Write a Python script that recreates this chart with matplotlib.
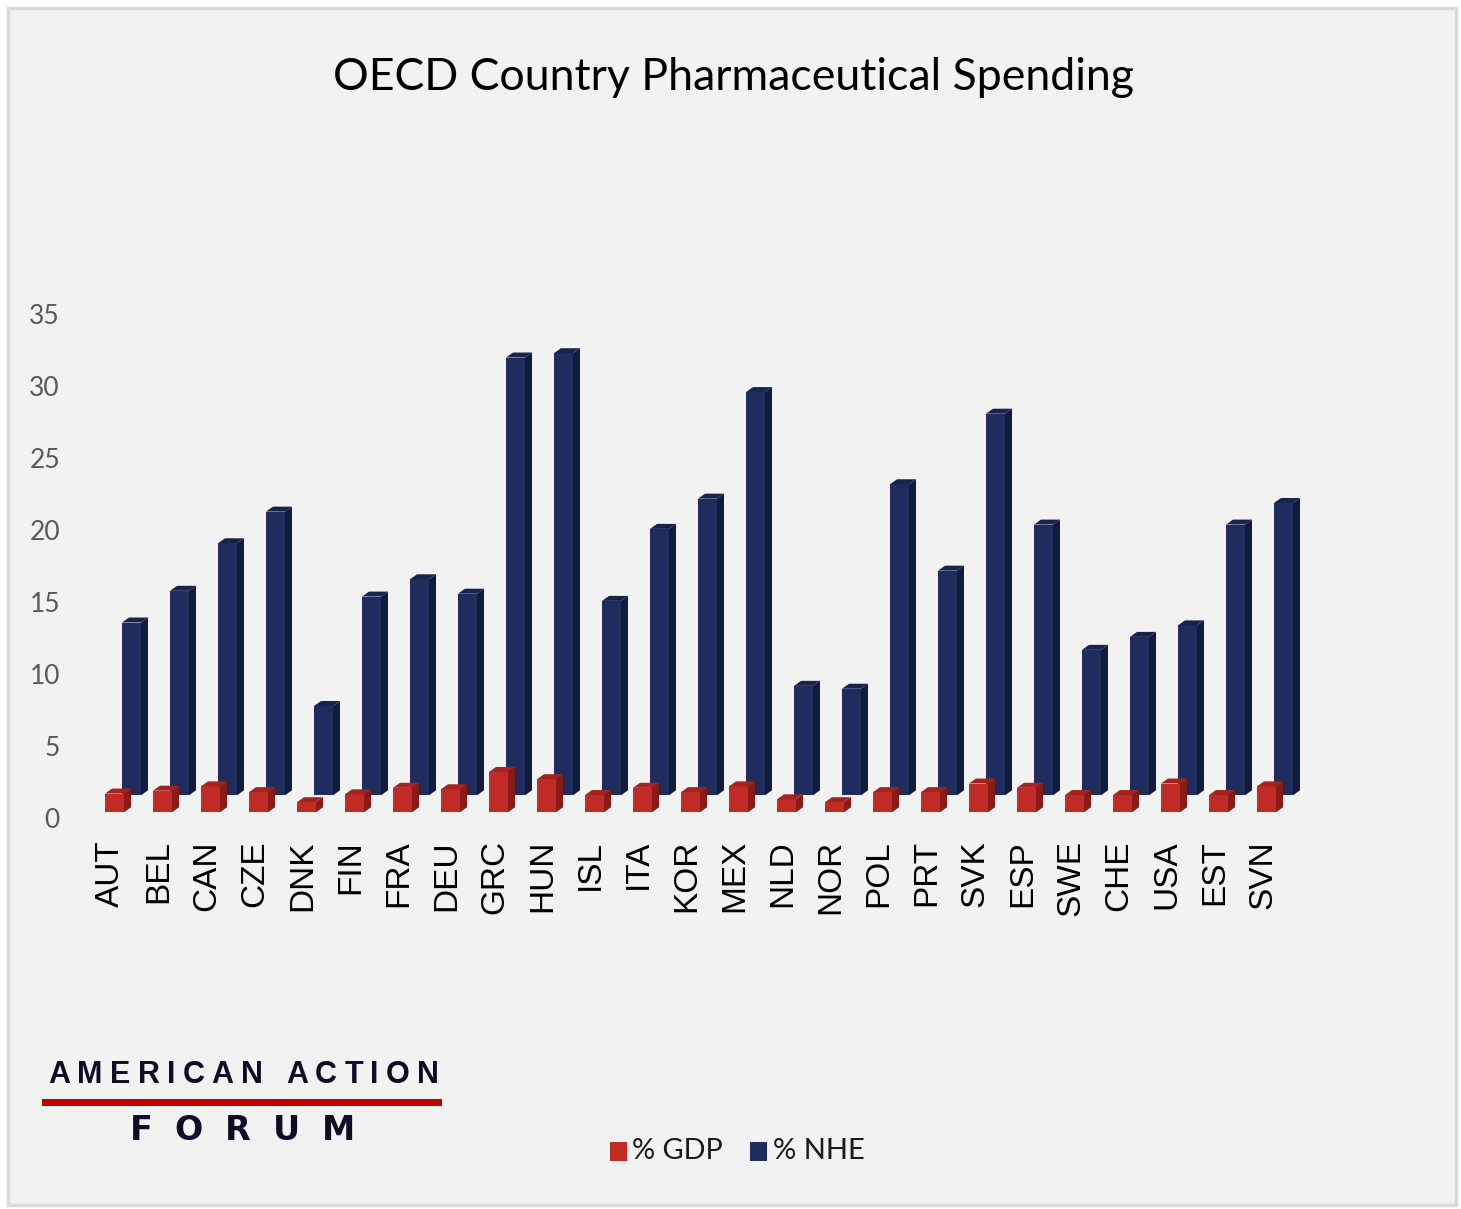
import matplotlib
matplotlib.use('Agg')
import matplotlib.pyplot as plt
import matplotlib.transforms as mtransforms
from matplotlib.patches import Rectangle

countries = ['AUT', 'BEL', 'CAN', 'CZE', 'DNK', 'FIN', 'FRA', 'DEU', 'GRC', 'HUN',
             'ISL', 'ITA', 'KOR', 'MEX', 'NLD', 'NOR', 'POL', 'PRT', 'SVK', 'ESP',
             'SWE', 'CHE', 'USA', 'EST', 'SVN']
gdp = [1.3, 1.5, 1.8, 1.4, 0.7, 1.25, 1.7, 1.6, 2.8, 2.3,
       1.2, 1.7, 1.4, 1.8, 0.9, 0.7, 1.4, 1.4, 2.0, 1.7,
       1.2, 1.2, 2.0, 1.2, 1.8]
nhe = [12.0, 14.2, 17.5, 19.7, 6.2, 13.8, 15.0, 14.0, 30.4, 30.7,
       13.5, 18.5, 20.6, 28.0, 7.6, 7.4, 21.6, 15.6, 26.5, 18.8,
       10.1, 11.0, 11.8, 18.8, 20.3]
yticks = [0, 5, 10, 15, 20, 25, 30, 35]
title = 'OECD Country Pharmaceutical Spending'
series_names = ['% GDP', '% NHE']

W, H = 1461, 1209
def fx(px):
    return px / W
def fy(py):
    return 1 - py / H

fig = plt.figure(figsize=(W / 100, H / 100), dpi=100)
fig.patch.set_facecolor('white')
fig.add_artist(Rectangle((fx(8), fy(1205)), fx(1456) - fx(8), fy(8) - fy(1205),
                         transform=fig.transFigure, facecolor='#f2f2f2',
                         edgecolor='#d9d9d9', lw=2.5, zorder=0))

# pixels per unit: 48 px per category, 14.4 px per value unit
ax = fig.add_axes([fx(90.5), fy(812.3), 1200 / W, 504 / H])
ax.set_xlim(-0.5, len(countries) - 0.5)
ax.set_ylim(0, 35)
ax.patch.set_alpha(0)
for s in ax.spines.values():
    s.set_visible(False)

bw = 19 / 48
side_dx = 7 / 48
top_dy = 5 / 14.4
back_dx = 17 / 48
back_dy = 17 / 14.4

def bars3d(xs, vals, bottom, front, side, topc, z):
    ax.bar(xs, vals, width=bw, bottom=bottom, color=front, zorder=z, lw=0, clip_on=False)
    for x, v in zip(xs, vals):
        xl, xr = x - bw / 2, x + bw / 2
        top = bottom + v
        ax.fill([xr, xr + side_dx, xr + side_dx, xr],
                [bottom, bottom + top_dy, top + top_dy, top],
                color=side, lw=0, zorder=z, clip_on=False)
        ax.fill([xl, xl + side_dx, xr + side_dx, xr],
                [top, top + top_dy, top + top_dy, top],
                color=topc, lw=0, zorder=z, clip_on=False)

idx = list(range(len(countries)))
bars3d([i + back_dx for i in idx], nhe, back_dy, '#1f2d5e', '#131b3a', '#19244d', 2)
bars3d(idx, gdp, 0, '#c12b25', '#861c18', '#a5231f', 3)

ax.set_xticks(idx)
ax.set_xticklabels(countries, rotation=90, fontfamily='Liberation Sans',
                   fontsize=24, color='black')
ax.set_yticks(yticks)
ax.set_yticklabels([str(t) for t in yticks], fontfamily='Lato', fontsize=19,
                   color='#595959')
ax.tick_params(axis='x', length=0, pad=20)
ax.tick_params(axis='y', length=0, pad=22)
off_x = mtransforms.ScaledTranslation(-4 / 100, 0, fig.dpi_scale_trans)
for lab in ax.get_xticklabels():
    lab.set_transform(lab.get_transform() + off_x)
off_y = mtransforms.ScaledTranslation(0, -6 / 100, fig.dpi_scale_trans)
for lab in ax.get_yticklabels():
    lab.set_transform(lab.get_transform() + off_y)

renderer = fig.canvas.get_renderer()
def fit(t, target):
    w = t.get_window_extent(renderer).width
    t.set_fontsize(t.get_fontsize() * target / w)

t = fig.text(fx(733), fy(77), title, ha='center', va='center',
             fontfamily='Lato', fontsize=40, color='black')
fit(t, 800)

# legend
fig.add_artist(Rectangle((fx(610), fy(1161)), 17 / W, 19 / H, transform=fig.transFigure,
                         facecolor='#c12b25', lw=0))
fig.add_artist(Rectangle((fx(750), fy(1161)), 17 / W, 19 / H, transform=fig.transFigure,
                         facecolor='#1f2d5e', lw=0))
l1 = fig.text(fx(632), fy(1151), series_names[0], ha='left', va='center',
              fontfamily='Lato', fontsize=24, color='#1a1a1a')
fit(l1, 91)
l2 = fig.text(fx(773), fy(1151), series_names[1], ha='left', va='center',
              fontfamily='Lato', fontsize=24, color='#1a1a1a')
fit(l2, 92)

# logo, letter spaced text
def spaced(s, x0, x1, ypx, **kw):
    arts = []
    for ch in s:
        arts.append(fig.text(0, fy(ypx), ch, ha='left', va='center', **kw))
    widths = [a.get_window_extent(renderer).width for a in arts]
    gap = (x1 - x0 - sum(widths)) / (len(s) - 1)
    x = x0
    for a, w in zip(arts, widths):
        a.set_x(fx(x))
        x += w + gap

spaced('AMERICAN ACTION', 48, 439, 1075, fontfamily='Liberation Sans',
       fontweight='bold', fontsize=22, color='#0d0d26')
fig.add_artist(Rectangle((fx(42), fy(1106)), 400 / W, 7 / H, transform=fig.transFigure,
                         facecolor='#c00000', lw=0))
spaced('FORUM', 130, 355, 1130, fontfamily='DejaVu Sans',
       fontweight='bold', fontsize=24, color='#0d0d26')

fig.savefig('out.png', dpi=100, facecolor=fig.get_facecolor())
